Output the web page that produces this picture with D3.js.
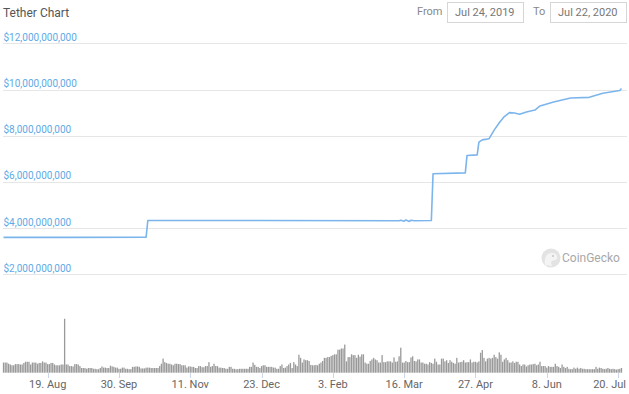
<!DOCTYPE html>
<html>

<head>
    <title>Tether Chart</title>
    <meta charset="UTF-8">
    <script src="https://d3js.org/d3.v7.min.js"></script>
    <style type="text/css">
        body { margin: 0; background: #fff; }
        text { font-family: Roboto, "Open Sans", sans-serif; }
    </style>
</head>

<body>
    <script type="text/javascript">
        // Market cap line (billions USD)
        var capDates = ["2019-07-24", "2019-09-01", "2019-10-16", "2019-10-17", "2019-12-15", "2020-03-13",
            "2020-03-14", "2020-03-16", "2020-03-17", "2020-03-19", "2020-03-20", "2020-03-22", "2020-04-01",
            "2020-04-02", "2020-04-21", "2020-04-22", "2020-04-28", "2020-04-29", "2020-05-01", "2020-05-05",
            "2020-05-08", "2020-05-11", "2020-05-14", "2020-05-17", "2020-05-20", "2020-05-23", "2020-05-27",
            "2020-06-01", "2020-06-04", "2020-06-12", "2020-06-22", "2020-07-03", "2020-07-11", "2020-07-21",
            "2020-07-22"];
        var capValues = [3.60, 3.60, 3.61, 4.33, 4.33, 4.32, 4.34, 4.30, 4.35, 4.29, 4.34, 4.32, 4.33,
            6.35, 6.39, 7.14, 7.17, 7.72, 7.82, 7.87, 8.24, 8.56, 8.83, 9.00, 8.98, 8.93, 9.03,
            9.11, 9.29, 9.46, 9.63, 9.66, 9.84, 9.96, 10.04];

        // Daily volume (billions USD), one per day from volumeStart
        var volumeStart = "2019-07-24";
        var volumeValues = [
            26, 26, 26, 23, 21, 19, 19, 22, 22, 22, 21, 21, 25, 28, 28, 28, 21, 26, 26, 26,
            23, 25, 25, 29, 26, 26, 22, 22, 25, 25, 21, 19, 19, 19, 21, 21, 138, 21, 21, 17,
            17, 16, 22, 22, 21, 17,
            12, 12, 12, 10, 12, 12, 12, 10, 10, 9, 9, 12, 16, 13, 13, 12, 12, 18, 16, 15,
            13, 13, 10, 10, 13, 13, 10, 10, 9, 9, 15, 15, 16, 16, 15, 11, 11, 11, 13, 13,
            13, 12, 12, 12, 12,
            12, 17, 23, 36, 27, 25, 23, 23, 21, 19, 23, 23, 22, 22, 19, 19, 19, 13, 16, 16,
            15, 15, 12, 12, 17, 17, 14, 14, 17, 17, 27, 15, 17, 23, 17, 17, 13, 13, 12, 12,
            10, 10, 15, 15, 10, 10, 9, 9, 10, 10, 10, 10, 10, 10, 15, 15, 26, 20, 15, 15,
            12, 17, 19, 19, 15, 15, 15, 15, 13, 13, 10, 10, 17, 21, 12, 13, 17, 21, 25, 12,
            27, 21, 17, 46, 38, 26, 34, 32, 32, 30,
            20, 19, 19, 20, 19, 23, 26, 30, 38, 38, 40, 40, 43, 45, 47, 47, 59, 59, 62, 62,
            72, 29, 40, 40, 47, 45, 45, 38, 46, 41, 47, 47, 26, 23, 23, 30, 34, 38, 34, 32,
            26, 26, 45, 27, 27, 29, 29, 29, 26, 39, 28, 29, 42, 64, 26, 26, 30, 27, 27, 39,
            42, 30, 29, 34, 34, 26, 26, 23, 23, 21, 27, 25, 23, 36, 28, 21, 21, 36, 36, 29,
            32, 25, 32, 28, 25, 23, 38, 26, 27, 28, 32, 26, 27, 27,
            34, 26, 28, 28, 26, 29, 51, 58, 38, 29, 36, 38, 36, 38, 46, 40, 36, 52, 46, 28,
            34, 38, 32, 26, 26, 29, 25, 28, 28, 21, 17, 21, 21, 16, 19, 21, 21, 22, 23, 19,
            21, 28, 17, 17, 17, 13, 17, 15, 15, 15, 23, 17, 15, 12, 21, 15, 12, 15, 10, 9,
            9, 13, 10, 13, 10, 12, 10, 10, 9, 9, 9, 9, 9, 9, 15, 10, 13, 12, 10, 9,
            10, 12, 10, 9, 10, 9, 8, 9, 10, 12];

        var yTicks = [2, 4, 6, 8, 10, 12];
        var xTicks = ["2019-08-19", "2019-09-30", "2019-11-11", "2019-12-23", "2020-02-03",
            "2020-03-16", "2020-04-27", "2020-06-08", "2020-07-20"];

        var parseTime = d3.timeParse("%Y-%m-%d");
        var width = 629, height = 394;

        var svg = d3.select("body").append("svg")
            .attr("width", width)
            .attr("height", height);

        // Header
        svg.append("text").attr("x", 3).attr("y", 17)
            .style("font-size", "12px").style("fill", "#555").text("Tether Chart");

        svg.append("text").attr("x", 417).attr("y", 15)
            .style("font-size", "11px").style("fill", "#888").text("From");
        svg.append("rect").attr("x", 447.5).attr("y", 2.5).attr("width", 76).attr("height", 20)
            .attr("fill", "#fff").attr("stroke", "#d6d6d6");
        svg.append("text").attr("x", 455).attr("y", 16)
            .style("font-size", "11px").style("fill", "#777").text("Jul 24, 2019");

        svg.append("text").attr("x", 533).attr("y", 15)
            .style("font-size", "11px").style("fill", "#888").text("To");
        svg.append("rect").attr("x", 550.5).attr("y", 2.5).attr("width", 76).attr("height", 20)
            .attr("fill", "#fff").attr("stroke", "#d6d6d6");
        svg.append("text").attr("x", 558).attr("y", 16)
            .style("font-size", "11px").style("fill", "#777").text("Jul 22, 2020");

        // Scales
        var x = d3.scaleTime()
            .domain([parseTime("2019-07-24"), parseTime("2020-07-22")])
            .range([3.5, 621.5]);
        var y = d3.scaleLinear().domain([2, 12]).range([274.3, 43.3]);
        var yVol = d3.scaleLinear().domain([0, 140]).range([372.7, 318]);

        // Grid lines and y labels
        var fmt = d3.format(",");
        svg.append("g").selectAll("line").data(yTicks).enter().append("line")
            .attr("x1", 3).attr("x2", 627)
            .attr("y1", function (d) { return Math.round(y(d)) + 0.5; })
            .attr("y2", function (d) { return Math.round(y(d)) + 0.5; })
            .attr("stroke", "#e6e6e6");
        svg.append("g").selectAll("text").data(yTicks).enter().append("text")
            .attr("x", 3.5)
            .attr("y", function (d) { return y(d) - 2.5; })
            .style("font-size", "10px")
            .style("fill", "#5eaae6")
            .text(function (d) { return "$" + fmt(d * 1e9); });

        // CoinGecko watermark
        var wm = svg.append("g").attr("transform", "translate(551,258)");
        wm.append("circle").attr("r", 9.5).attr("fill", "#e3e3e3");
        wm.append("path").attr("d", "M-6,7 C-7,0 -5,-5 1,-5 C5,-5 7,-2 6,1 C4,3 1,2 0,4 L1,8 Z")
            .attr("fill", "#f4f4f4");
        wm.append("circle").attr("cx", 2).attr("cy", -2).attr("r", 1).attr("fill", "#c4c4c4");
        svg.append("text").attr("x", 562).attr("y", 262)
            .style("font-size", "12px").style("fill", "#a8a8a8").text("CoinGecko");

        // Market cap line
        var capData = capDates.map(function (d, i) { return { date: parseTime(d), value: capValues[i] }; });
        var line = d3.line()
            .x(function (d) { return x(d.date); })
            .y(function (d) { return y(d.value); });
        svg.append("path")
            .datum(capData)
            .attr("fill", "none")
            .attr("stroke", "#7cb5ec")
            .attr("stroke-width", 1.6)
            .attr("stroke-linejoin", "round")
            .attr("d", line);

        // Volume bars
        var start = parseTime(volumeStart);
        var volData = volumeValues.map(function (v, i) { return { date: d3.timeDay.offset(start, i), value: v }; });
        var step = x(d3.timeDay.offset(start, 1)) - x(start);
        svg.append("g").selectAll("rect").data(volData).enter().append("rect")
            .attr("x", function (d) { return x(d.date) - step / 2 + 0.2; })
            .attr("width", step - 0.4)
            .attr("y", function (d) { return yVol(d.value); })
            .attr("height", function (d) { return yVol(0) - yVol(d.value); })
            .attr("fill", "#999");

        // X axis
        var tickDates = xTicks.map(parseTime);
        svg.append("g").selectAll("line").data(tickDates).enter().append("line")
            .attr("x1", function (d) { return Math.round(x(d)) + 0.5; })
            .attr("x2", function (d) { return Math.round(x(d)) + 0.5; })
            .attr("y1", 373).attr("y2", 378)
            .attr("stroke", "#ccd6eb");
        var tickFmt = d3.timeFormat("%-d. %b");
        var last = tickDates.length - 1;
        svg.append("g").selectAll("text").data(tickDates).enter().append("text")
            .attr("x", function (d, i) { return i === last ? 626 : x(d); })
            .attr("y", 388)
            .attr("text-anchor", function (d, i) { return i === last ? "end" : "middle"; })
            .style("font-size", "11px")
            .style("fill", "#666")
            .text(function (d) { return tickFmt(d); });
    </script>
</body>

</html>
